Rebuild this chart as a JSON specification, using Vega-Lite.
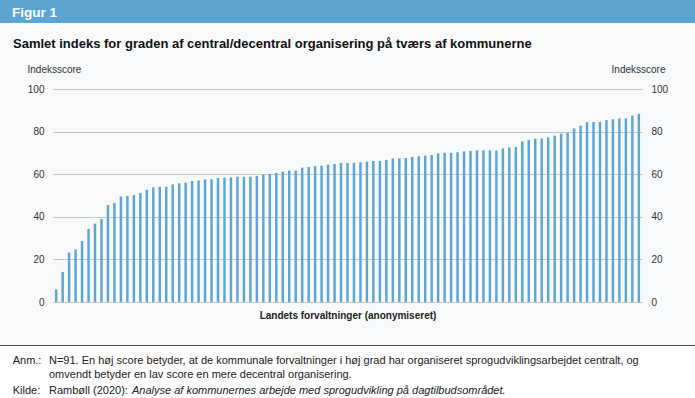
{
  "$schema": "https://vega.github.io/schema/vega-lite/v6.json",
  "padding": 0,
  "background": "#f8f9fa",
  "spacing": 0,
  "bounds": "flush",
  "center": true,
  "config": {"view": {"stroke": null}, "font": "Liberation Sans", "title": {"anchor": "start", "frame": "group", "baseline": "top", "fontWeight": "normal", "fontSize": 11, "color": "#222222"}},
  "vconcat": [
    {
      "width": 695, "height": 23,
      "view": {"fill": "#5ca4d1", "stroke": null},
      "data": {"values": []},
      "mark": "point",
      "title": {"text": "Figur 1", "fontSize": 13.5, "fontWeight": "bold", "color": "#ffffff", "dx": 12, "offset": -19.3}
    },
    {
      "width": 695, "height": 66,
      "data": {"values": []},
      "mark": "point",
      "title": {"text": "Samlet indeks for graden af central/decentral organisering på tværs af kommunerne", "fontSize": 13, "fontWeight": "bold", "color": "#111111", "dx": 13, "offset": -28.4}
    },
    {
      "width": 589, "height": 213,
      "data": {"values": [
        {"nr": 1, "score": 5.9}, {"nr": 2, "score": 14.1}, {"nr": 3, "score": 23.2}, {"nr": 4, "score": 24.7},
        {"nr": 5, "score": 28.6}, {"nr": 6, "score": 34.3}, {"nr": 7, "score": 36.8}, {"nr": 8, "score": 39.0},
        {"nr": 9, "score": 45.5}, {"nr": 10, "score": 46.5}, {"nr": 11, "score": 49.5}, {"nr": 12, "score": 49.8},
        {"nr": 13, "score": 50.2}, {"nr": 14, "score": 51.2}, {"nr": 15, "score": 52.7}, {"nr": 16, "score": 53.8},
        {"nr": 17, "score": 54.1}, {"nr": 18, "score": 54.1}, {"nr": 19, "score": 55.2}, {"nr": 20, "score": 55.7},
        {"nr": 21, "score": 56.0}, {"nr": 22, "score": 56.8}, {"nr": 23, "score": 57.1}, {"nr": 24, "score": 57.6},
        {"nr": 25, "score": 57.6}, {"nr": 26, "score": 58.2}, {"nr": 27, "score": 58.4}, {"nr": 28, "score": 58.5},
        {"nr": 29, "score": 58.8}, {"nr": 30, "score": 58.8}, {"nr": 31, "score": 58.8}, {"nr": 32, "score": 59.2},
        {"nr": 33, "score": 59.8}, {"nr": 34, "score": 60.1}, {"nr": 35, "score": 60.6}, {"nr": 36, "score": 61.2},
        {"nr": 37, "score": 61.7}, {"nr": 38, "score": 61.7}, {"nr": 39, "score": 63.1}, {"nr": 40, "score": 63.4},
        {"nr": 41, "score": 63.8}, {"nr": 42, "score": 64.0}, {"nr": 43, "score": 64.5}, {"nr": 44, "score": 64.8},
        {"nr": 45, "score": 65.3}, {"nr": 46, "score": 65.3}, {"nr": 47, "score": 65.4}, {"nr": 48, "score": 65.6},
        {"nr": 49, "score": 65.9}, {"nr": 50, "score": 66.2}, {"nr": 51, "score": 66.2}, {"nr": 52, "score": 66.7},
        {"nr": 53, "score": 67.4}, {"nr": 54, "score": 67.4}, {"nr": 55, "score": 67.6}, {"nr": 56, "score": 68.1},
        {"nr": 57, "score": 68.4}, {"nr": 58, "score": 68.7}, {"nr": 59, "score": 69.0}, {"nr": 60, "score": 69.8},
        {"nr": 61, "score": 70.0}, {"nr": 62, "score": 70.0}, {"nr": 63, "score": 70.3}, {"nr": 64, "score": 70.7},
        {"nr": 65, "score": 71.0}, {"nr": 66, "score": 71.2}, {"nr": 67, "score": 71.2}, {"nr": 68, "score": 71.2},
        {"nr": 69, "score": 71.2}, {"nr": 70, "score": 72.1}, {"nr": 71, "score": 72.5}, {"nr": 72, "score": 72.8},
        {"nr": 73, "score": 75.4}, {"nr": 74, "score": 76.1}, {"nr": 75, "score": 76.7}, {"nr": 76, "score": 76.8},
        {"nr": 77, "score": 77.3}, {"nr": 78, "score": 78.1}, {"nr": 79, "score": 79.0}, {"nr": 80, "score": 79.5},
        {"nr": 81, "score": 81.5}, {"nr": 82, "score": 82.8}, {"nr": 83, "score": 84.4}, {"nr": 84, "score": 84.5},
        {"nr": 85, "score": 84.5}, {"nr": 86, "score": 85.4}, {"nr": 87, "score": 85.8}, {"nr": 88, "score": 86.2},
        {"nr": 89, "score": 86.2}, {"nr": 90, "score": 87.5}, {"nr": 91, "score": 88.3}
      ]},
      "encoding": {
        "x": {
          "field": "nr", "type": "ordinal",
          "scale": {"paddingInner": 0.62, "paddingOuter": 0.3},
          "axis": {"title": "Landets forvaltninger (anonymiseret)", "labels": false, "ticks": false, "domain": false, "titleFontSize": 10, "titleFontWeight": "bold", "titleColor": "#222222", "titlePadding": 8}
        }
      },
      "layer": [
        {
          "mark": {"type": "bar", "color": "#5da5d2"},
          "encoding": {
            "y": {
              "field": "score", "type": "quantitative", "scale": {"domain": [0, 100]},
              "axis": {"orient": "left", "title": "Indeksscore", "titleAngle": 0, "titleAlign": "left", "titleBaseline": "alphabetic", "titleX": -26, "titleY": -16.5, "titleFontSize": 10, "titleFontWeight": "normal", "titleColor": "#333333", "values": [0, 20, 40, 60, 80, 100], "labelFontSize": 10, "labelColor": "#333333", "labelPadding": 9, "ticks": false, "domain": false, "grid": true, "gridColor": "#c6c6c6", "gridWidth": 1}
            }
          }
        },
        {
          "mark": {"type": "bar", "opacity": 0},
          "encoding": {
            "y": {
              "field": "score", "type": "quantitative", "scale": {"domain": [0, 100]},
              "axis": {"orient": "right", "title": "Indeksscore", "titleAngle": 0, "titleAlign": "right", "titleBaseline": "alphabetic", "titleX": 23, "titleY": -16.5, "titleFontSize": 10, "titleFontWeight": "normal", "titleColor": "#333333", "values": [0, 20, 40, 60, 80, 100], "labelFontSize": 10, "labelColor": "#333333", "labelPadding": 9, "ticks": false, "domain": false, "grid": false}
            }
          }
        }
      ],
      "resolve": {"axis": {"y": "independent"}}
    },
    {"width": 695, "height": 43, "data": {"values": []}, "mark": "point"},
    {"width": 695, "height": 1, "view": {"fill": "#555555", "stroke": null}, "data": {"values": []}, "mark": "point"},
    {
      "width": 695, "height": 53,
      "view": {"fill": "#fdfdfd", "stroke": null},
      "data": {"values": []}, "mark": "point",
      "title": {"text": "N=91. En høj score betyder, at de kommunale forvaltninger i høj grad har organiseret sprogudviklingsarbejdet centralt, og", "dx": 49, "offset": -20}
    },
    {
      "width": 695, "height": 1,
      "data": {"values": []}, "mark": "point",
      "title": {"text": "Anm.:", "dx": 12.7, "offset": 33}
    },
    {
      "width": 695, "height": 1,
      "data": {"values": []}, "mark": "point",
      "title": {"text": "omvendt betyder en lav score en mere decentral organisering.", "dx": 49, "offset": 20}
    },
    {
      "width": 695, "height": 1,
      "data": {"values": []}, "mark": "point",
      "title": {"text": "Kilde:", "dx": 12.7, "offset": 5}
    },
    {
      "width": 695, "height": 1,
      "data": {"values": []}, "mark": "point",
      "title": {"text": "Rambøll (2020):", "dx": 49, "offset": 6}
    },
    {
      "width": 695, "height": 1,
      "data": {"values": []}, "mark": "point",
      "title": {"text": "Analyse af kommunernes arbejde med sprogudvikling på dagtilbudsområdet.", "fontStyle": "italic", "dx": 132, "offset": 7}
    }
  ]
}
